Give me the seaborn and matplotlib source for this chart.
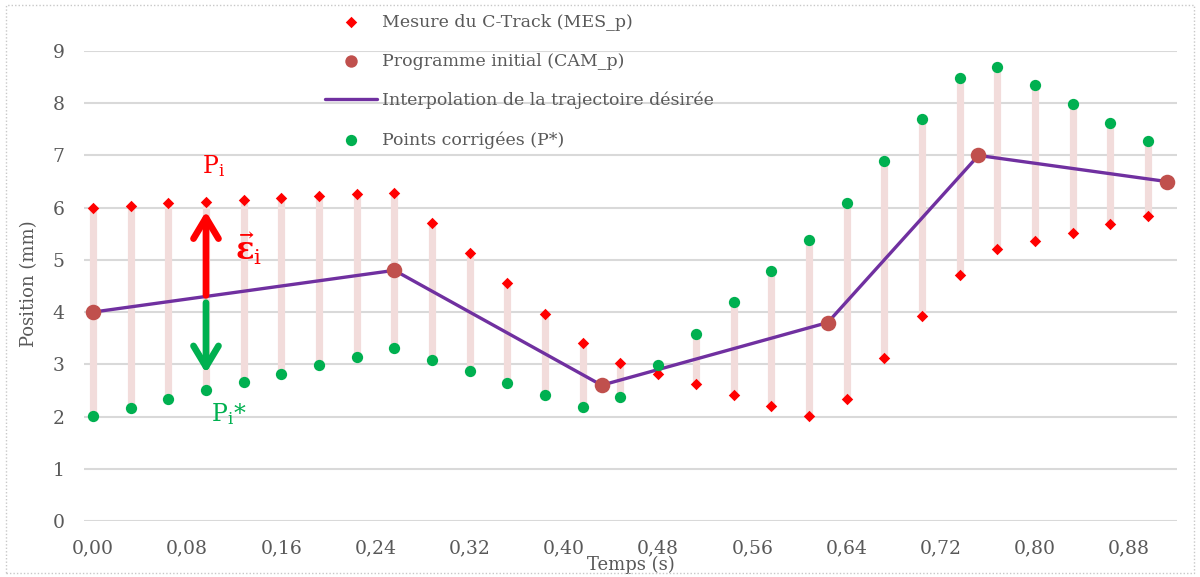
import numpy as np
import pandas as pd
import matplotlib
matplotlib.use("Agg")
import matplotlib.pyplot as plt
from matplotlib.patches import Rectangle
from matplotlib.ticker import FixedLocator, FuncFormatter
import seaborn as sns

# ---- data ----
temps = [0.000, 0.032, 0.064, 0.096, 0.128, 0.160, 0.192, 0.224, 0.256, 0.288,
         0.320, 0.352, 0.384, 0.416, 0.448, 0.480, 0.512, 0.544, 0.576, 0.608,
         0.640, 0.672, 0.704, 0.736, 0.768, 0.800, 0.832, 0.864, 0.896]
mes_p = [6.00, 6.03, 6.08, 6.11, 6.15, 6.18, 6.22, 6.27, 6.29, 5.71,
         5.13, 4.56, 3.97, 3.40, 3.02, 2.81, 2.62, 2.42, 2.21, 2.02,
         2.33, 3.12, 3.92, 4.72, 5.20, 5.36, 5.52, 5.68, 5.84]
p_star = [2.01, 2.17, 2.33, 2.50, 2.66, 2.82, 2.99, 3.15, 3.32, 3.09,
          2.87, 2.65, 2.42, 2.19, 2.38, 2.98, 3.59, 4.19, 4.79, 5.39,
          6.09, 6.89, 7.69, 8.48, 8.70, 8.34, 7.99, 7.63, 7.27]
cam_t = [0.000, 0.256, 0.432, 0.624, 0.752, 0.912]
cam_p = [4.0, 4.8, 2.6, 3.8, 7.0, 6.5]
x_ticks = [0.00, 0.08, 0.16, 0.24, 0.32, 0.40, 0.48, 0.56, 0.64, 0.72, 0.80, 0.88]
y_ticks = [0, 1, 2, 3, 4, 5, 6, 7, 8, 9]

labels = ["Mesure du C-Track (MES_p)", "Programme initial (CAM_p)",
          "Interpolation de la trajectoire désirée", "Points corrigées (P*)"]

meas = pd.DataFrame({"t": temps, "mes": mes_p, "pstar": p_star})
cam = pd.DataFrame({"t": cam_t, "p": cam_p})

# ---- style ----
sns.set_theme(style="white")
plt.rcParams["font.family"] = ["DejaVu Serif"]
plt.rcParams["mathtext.fontset"] = "dejavuserif"
TXT = "#595959"

fig = plt.figure(figsize=(12, 5.77), dpi=100)
ax = fig.add_axes([84 / 1200, 1 - 521 / 577, (1177 - 84) / 1200, (521 - 51) / 577])

# error bars between measure and corrected point
ax.vlines(meas["t"], meas["pstar"], meas["mes"], colors="#F2DCDB", linewidth=5.2, zorder=2)

sns.lineplot(data=cam, x="t", y="p", ax=ax, color="#7030A0", linewidth=2.4,
             label=labels[2], zorder=3, sort=False)
sns.scatterplot(data=meas, x="t", y="mes", ax=ax, marker="D", color="#FF0000",
                s=34, linewidth=0, label=labels[0], zorder=4)
sns.scatterplot(data=meas, x="t", y="pstar", ax=ax, marker="o", color="#00B050",
                s=66, linewidth=0, label=labels[3], zorder=4)
sns.scatterplot(data=cam, x="t", y="p", ax=ax, marker="o", color="#C0504D",
                s=125, linewidth=0, label=labels[1], zorder=5)

# axes
ax.set_xlim(-0.0076, 0.9206)
ax.set_ylim(0, 9)
ax.xaxis.set_major_locator(FixedLocator(x_ticks))
ax.yaxis.set_major_locator(FixedLocator(y_ticks))
ax.xaxis.set_major_formatter(FuncFormatter(lambda v, p: f"{v:.2f}".replace(".", ",")))
ax.yaxis.set_major_formatter(FuncFormatter(lambda v, p: f"{int(round(v))}"))
ax.grid(axis="y", color="#D9D9D9", linewidth=1.5)
ax.grid(axis="x", visible=False)
for s in ax.spines.values():
    s.set_visible(False)
ax.tick_params(axis="both", length=0, labelsize=13.5, labelcolor=TXT)
ax.tick_params(axis="x", pad=13)
ax.tick_params(axis="y", pad=14)
ax.set_xlabel("Temps (s)", fontsize=13, color=TXT)
ax.set_ylabel("Position (mm)", fontsize=13, color=TXT)
ax.xaxis.set_label_coords((631 - 84) / 1093, -0.074)
ax.yaxis.set_label_coords(-0.042, 0.504)

# legend
h, l = ax.get_legend_handles_labels()
order = [l.index(lab) for lab in labels]
leg = ax.legend([h[i] for i in order], [l[i] for i in order], loc="upper left",
                bbox_to_anchor=(325 / 1200, 1 - 14 / 577), bbox_transform=fig.transFigure,
                frameon=False, fontsize=12.5, handlelength=3.0, handletextpad=0.29,
                labelspacing=1.26, borderpad=0, borderaxespad=0)
for t in leg.get_texts():
    t.set_color(TXT)
leg.legend_handles[1].set_sizes([80])

# annotations
ax.annotate("", xy=(0.096, 5.93), xytext=(0.096, 4.32),
            arrowprops=dict(arrowstyle="->,head_length=0.75,head_width=0.45",
                            color="#FF0000", lw=4.8, mutation_scale=20,
                            shrinkA=0, shrinkB=0), zorder=6)
ax.annotate("", xy=(0.096, 2.83), xytext=(0.096, 4.18),
            arrowprops=dict(arrowstyle="->,head_length=0.75,head_width=0.45",
                            color="#00B050", lw=4.8, mutation_scale=20,
                            shrinkA=0, shrinkB=0), zorder=6)
ax.text(0.102, 6.8, r"$\mathrm{P_i}$", color="#FF0000", fontsize=17, ha="center", va="center")
ax.text(0.121, 5.22, r"$\vec{\mathbf{\varepsilon}}_\mathrm{i}$", color="#FF0000",
        fontsize=22, ha="left", va="center", fontweight="bold")
ax.text(0.115, 2.05, r"$\mathrm{P_i}$*", color="#00B050", fontsize=17, ha="center", va="center")

# dotted chart border
fig.patches.append(Rectangle((6 / 1200, 4 / 577), 1188 / 1200, 568 / 577,
                             transform=fig.transFigure, fill=False,
                             edgecolor="#C8C8C8", linestyle=(0, (1, 1.5)), linewidth=1))

fig.savefig("out.png", dpi=100)
